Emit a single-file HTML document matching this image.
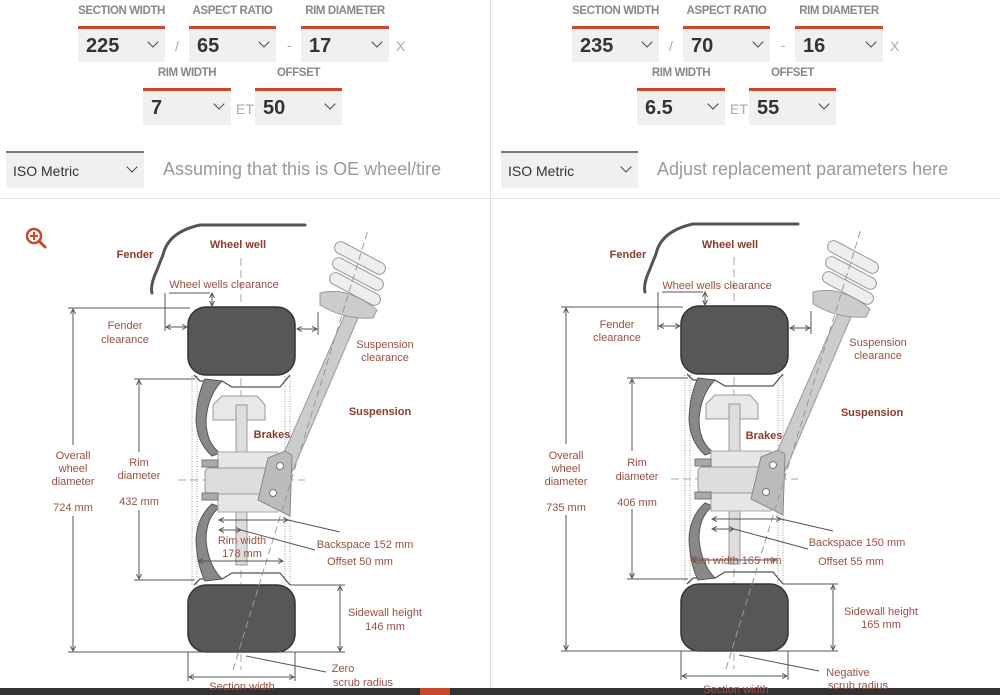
<!DOCTYPE html>
<html><head><meta charset="utf-8"><style>
html,body{margin:0;padding:0;background:#fff;}
body{width:1000px;height:695px;overflow:hidden;position:relative;font-family:"Liberation Sans",sans-serif;}
.lbl{position:absolute;font-size:11.5px;font-weight:bold;color:#888;letter-spacing:-0.4px;text-align:center;}
.bar{position:absolute;height:3px;background:#c7482a;}
.box{position:absolute;background:#f0f0f0;font-weight:bold;font-size:20px;color:#333;}
.box span{position:absolute;left:8px;top:6px;}
.chev{position:absolute;width:7px;height:7px;border-right:1.6px solid #444;border-bottom:1.6px solid #444;transform:rotate(45deg);}
.sep{position:absolute;color:#aaa;font-size:14px;}
.iso{position:absolute;background:#f0f0f0;border-top:2px solid #777;font-size:14px;color:#333;}
.hint{position:absolute;font-size:18px;color:#9a9a9a;}
</style></head><body>

<!-- LEFT HEADER -->
<div class="lbl" style="left:78px;top:5px;width:87px">SECTION WIDTH</div>
<div class="bar" style="left:78px;top:26px;width:87px"></div>
<div class="box" style="left:78px;top:29px;width:87px;height:33px"><span>225</span><div class="chev" style="left:71px;top:9px"></div></div>
<div class="sep" style="left:175px;top:38px">/</div>
<div class="lbl" style="left:189px;top:5px;width:87px">ASPECT RATIO</div>
<div class="bar" style="left:189px;top:26px;width:87px"></div>
<div class="box" style="left:189px;top:29px;width:87px;height:33px"><span>65</span><div class="chev" style="left:71px;top:9px"></div></div>
<div class="sep" style="left:287px;top:37px">-</div>
<div class="lbl" style="left:301px;top:5px;width:88px">RIM DIAMETER</div>
<div class="bar" style="left:301px;top:26px;width:88px"></div>
<div class="box" style="left:301px;top:29px;width:88px;height:33px"><span>17</span><div class="chev" style="left:72px;top:9px"></div></div>
<div class="sep" style="left:396px;top:38px">X</div>
<div class="lbl" style="left:143px;top:67px;width:88px">RIM WIDTH</div>
<div class="bar" style="left:143px;top:88px;width:88px"></div>
<div class="box" style="left:143px;top:91px;width:88px;height:34px"><span>7</span><div class="chev" style="left:72px;top:9px"></div></div>
<div class="sep" style="left:236px;top:101px">ET</div>
<div class="lbl" style="left:255px;top:67px;width:87px">OFFSET</div>
<div class="bar" style="left:255px;top:88px;width:87px"></div>
<div class="box" style="left:255px;top:91px;width:87px;height:34px"><span>50</span><div class="chev" style="left:71px;top:9px"></div></div>
<div class="iso" style="left:6px;top:151px;width:138px;height:35px"><span style="position:absolute;left:7px;top:10px">ISO Metric</span><div class="chev" style="left:122px;top:10px"></div></div>
<div class="hint" style="left:163px;top:159px">Assuming that this is OE wheel/tire</div>

<!-- RIGHT HEADER -->
<div class="lbl" style="left:572px;top:5px;width:87px">SECTION WIDTH</div>
<div class="bar" style="left:572px;top:26px;width:87px"></div>
<div class="box" style="left:572px;top:29px;width:87px;height:33px"><span>235</span><div class="chev" style="left:71px;top:9px"></div></div>
<div class="sep" style="left:669px;top:38px">/</div>
<div class="lbl" style="left:683px;top:5px;width:87px">ASPECT RATIO</div>
<div class="bar" style="left:683px;top:26px;width:87px"></div>
<div class="box" style="left:683px;top:29px;width:87px;height:33px"><span>70</span><div class="chev" style="left:71px;top:9px"></div></div>
<div class="sep" style="left:781px;top:37px">-</div>
<div class="lbl" style="left:795px;top:5px;width:88px">RIM DIAMETER</div>
<div class="bar" style="left:795px;top:26px;width:88px"></div>
<div class="box" style="left:795px;top:29px;width:88px;height:33px"><span>16</span><div class="chev" style="left:72px;top:9px"></div></div>
<div class="sep" style="left:890px;top:38px">X</div>
<div class="lbl" style="left:637px;top:67px;width:88px">RIM WIDTH</div>
<div class="bar" style="left:637px;top:88px;width:88px"></div>
<div class="box" style="left:637px;top:91px;width:88px;height:34px"><span>6.5</span><div class="chev" style="left:72px;top:9px"></div></div>
<div class="sep" style="left:730px;top:101px">ET</div>
<div class="lbl" style="left:749px;top:67px;width:87px">OFFSET</div>
<div class="bar" style="left:749px;top:88px;width:87px"></div>
<div class="box" style="left:749px;top:91px;width:87px;height:34px"><span>55</span><div class="chev" style="left:71px;top:9px"></div></div>
<div class="iso" style="left:501px;top:151px;width:137px;height:35px"><span style="position:absolute;left:7px;top:10px">ISO Metric</span><div class="chev" style="left:121px;top:10px"></div></div>
<div class="hint" style="left:657px;top:159px">Adjust replacement parameters here</div>

<svg width="1000" height="695" style="position:absolute;left:0;top:0" font-family="Liberation Sans, sans-serif">
<defs>
<marker id="a" markerWidth="6" markerHeight="6" refX="5" refY="3" orient="auto-start-reverse"><path d="M0,0.5 L5,3 L0,5.5" fill="none" stroke="#555" stroke-width="1"/></marker>
<g id="d">
 <!-- fender -->
 <path d="M152,293 Q150,285 157,270 Q160,262 163,255 Q168,232 200,225 L305,225" fill="none" stroke="#555" stroke-width="3" stroke-linecap="round"/>
 <!-- centre axes -->
 <line x1="241" y1="258" x2="241" y2="670" stroke="#aaa" stroke-dasharray="8,4"/>
 <line x1="178" y1="480" x2="305" y2="480" stroke="#aaa" stroke-dasharray="8,4"/>
 <!-- tires -->
 <rect x="188" y="307" width="107" height="68" rx="18" fill="#575757" stroke="#333" stroke-width="1.5"/>
 <rect x="188" y="585" width="107" height="67" rx="18" fill="#575757" stroke="#333" stroke-width="1.5"/>
 <!-- rim dotted -->
 <g stroke="#999" stroke-dasharray="1,1.5"><line x1="192" y1="376" x2="192" y2="585"/><line x1="197" y1="376" x2="197" y2="585"/><line x1="285" y1="376" x2="285" y2="585"/><line x1="290" y1="376" x2="290" y2="585"/></g>
 <!-- rim barrel -->
 <path d="M194,375 L200,381 L222,381 L232,387 L280,387 L290,375" fill="none" stroke="#555" stroke-width="1.3"/>
 <path d="M194,585 L200,579 L222,579 L232,573 L280,573 L290,585" fill="none" stroke="#555" stroke-width="1.3"/>
 <!-- disc -->
 <path d="M205,379 L222,381 Q208,395 206,420 Q206,443 220,453 L212,456 Q197,443 196,420 Q197,395 205,379 Z" fill="#888" stroke="#555"/>
 <path d="M205,581 L222,579 Q208,565 206,540 Q206,517 220,507 L212,504 Q197,517 196,540 Q197,565 205,581 Z" fill="#888" stroke="#555"/>
 <!-- caliper & shaft -->
 <rect x="236" y="405" width="11" height="160" fill="#ddd" stroke="#999"/>
 <path d="M213,405 L222,396 L257,396 L265,405 L265,420 L213,420 Z" fill="#e8e8e8" stroke="#999"/>
 <rect x="236" y="405" width="11" height="50" fill="#ddd" stroke="#999"/>
 <!-- hub -->
 <rect x="218" y="452" width="60" height="60" fill="#e6e6e6" stroke="#aaa"/>
 <rect x="205" y="468" width="70" height="26" rx="4" fill="#ddd" stroke="#999"/>
 <rect x="202" y="460" width="16" height="7" fill="#aaa" stroke="#777"/>
 <rect x="202" y="493" width="16" height="7" fill="#aaa" stroke="#777"/>
 <!-- strut -->
 <path d="M283,455 L346,312 L358,318 L292,472 Z" fill="#ccc" stroke="#999"/>
 <path d="M258,500 L268,458 L285,451 L292,455 L290,516 Z" fill="#bbb" stroke="#888"/>
 <circle cx="280" cy="466" r="3.5" fill="#fff" stroke="#777"/>
 <circle cx="273" cy="493" r="3.5" fill="#fff" stroke="#777"/>
 <path d="M320,293 Q348,286 377,310 L373,318 Q345,320 320,305 Z" fill="#ccc" stroke="#999"/>
 <g fill="#eee" stroke="#999">
  <rect x="332" y="252" width="56" height="12" rx="6" transform="rotate(28 360 258)"/>
  <rect x="330" y="268" width="56" height="12" rx="6" transform="rotate(28 358 274)"/>
  <rect x="327" y="283" width="56" height="12" rx="6" transform="rotate(28 355 289)"/>
 </g>
 <line x1="233" y1="670" x2="368" y2="230" stroke="#999" stroke-dasharray="7,4"/>
 <!-- dims -->
 <g stroke="#555" stroke-width="1" fill="none">
  <line x1="169" y1="293" x2="210" y2="293"/>
  <line x1="212" y1="293" x2="212" y2="306" marker-start="url(#a)" marker-end="url(#a)"/>
  <line x1="68" y1="308" x2="190" y2="308"/>
  <line x1="68" y1="652" x2="345" y2="652"/>
  <line x1="73" y1="309" x2="73" y2="445" marker-start="url(#a)"/><line x1="73" y1="516" x2="73" y2="651" marker-end="url(#a)"/>
  <line x1="165" y1="293" x2="165" y2="331"/>
  <line x1="166" y1="327" x2="187" y2="327" marker-start="url(#a)" marker-end="url(#a)"/>
  <line x1="318" y1="312" x2="318" y2="335"/>
  <line x1="297" y1="329" x2="317" y2="329" marker-start="url(#a)" marker-end="url(#a)"/>
  <line x1="134" y1="379" x2="195" y2="379"/><line x1="134" y1="580" x2="195" y2="580"/>
  <line x1="139" y1="380" x2="139" y2="452" marker-start="url(#a)"/><line x1="139" y1="510" x2="139" y2="579" marker-end="url(#a)"/>
  <line x1="219" y1="520" x2="288" y2="520" marker-start="url(#a)" marker-end="url(#a)"/>
  <line x1="219" y1="530" x2="241" y2="530" marker-start="url(#a)" marker-end="url(#a)"/>
  <line x1="288" y1="520" x2="340" y2="532"/><line x1="241" y1="530" x2="315" y2="550"/>
  <line x1="198" y1="561" x2="283" y2="561" marker-start="url(#a)" marker-end="url(#a)"/>
  <line x1="290" y1="585" x2="345" y2="585"/>
  <line x1="340" y1="586" x2="340" y2="651" marker-start="url(#a)" marker-end="url(#a)"/>
  <line x1="188" y1="652" x2="188" y2="681"/><line x1="295" y1="652" x2="295" y2="681"/>
  <line x1="189" y1="677" x2="294" y2="677" marker-start="url(#a)" marker-end="url(#a)"/>
  <line x1="246" y1="656" x2="326" y2="672"/>
 </g>
</g>
</defs>
<use href="#d"/>
<use href="#d" transform="translate(493,-1)"/>
<!-- dividers -->
<line x1="490.5" y1="0" x2="490.5" y2="688" stroke="#ddd"/>
<line x1="0" y1="198.5" x2="1000" y2="198.5" stroke="#e4e4e4"/>
<rect x="0" y="688" width="1000" height="7" fill="#333"/>
<rect x="420" y="688" width="30" height="7" fill="#c7482a"/>
<!-- zoom icon -->
<circle cx="34" cy="236" r="7" fill="none" stroke="#c7482a" stroke-width="2.5"/>
<line x1="39" y1="241" x2="45" y2="247" stroke="#c7482a" stroke-width="3" stroke-linecap="round"/>
<path d="M30,236 H38 M34,232 V240" stroke="#c7482a" stroke-width="2"/>

<g font-size="11" fill="#9a5040" text-anchor="middle">
 <g font-weight="bold" fill="#8b3b2b"><text x="135" y="258">Fender</text><text x="238" y="248">Wheel well</text><text x="272" y="438">Brakes</text><text x="380" y="415">Suspension</text>
 <text x="628" y="258">Fender</text><text x="730" y="248">Wheel well</text><text x="764" y="439">Brakes</text><text x="872" y="416">Suspension</text></g>
 <text x="224" y="288">Wheel wells clearance</text>
 <text x="125" y="329">Fender</text><text x="125" y="343">clearance</text>
 <text x="385" y="348">Suspension</text><text x="385" y="361">clearance</text>
 <text x="73" y="459">Overall</text><text x="73" y="472">wheel</text><text x="73" y="485">diameter</text><text x="73" y="511">724 mm</text>
 <text x="139" y="466">Rim</text><text x="139" y="479">diameter</text><text x="139" y="505">432 mm</text>
 <text x="242" y="544">Rim width</text><text x="242" y="557">178 mm</text>
 <text x="365" y="548">Backspace 152 mm</text><text x="360" y="565">Offset 50 mm</text>
 <text x="385" y="616">Sidewall height</text><text x="385" y="630">146 mm</text>
 <text x="343" y="672">Zero</text><text x="363" y="686">scrub radius</text>
 <text x="242" y="690">Section width</text>

 <text x="717" y="289">Wheel wells clearance</text>
 <text x="617" y="328">Fender</text><text x="617" y="341">clearance</text>
 <text x="878" y="346">Suspension</text><text x="878" y="359">clearance</text>
 <text x="566" y="459">Overall</text><text x="566" y="472">wheel</text><text x="566" y="485">diameter</text><text x="566" y="511">735 mm</text>
 <text x="637" y="466">Rim</text><text x="637" y="480">diameter</text><text x="637" y="506">406 mm</text>
 <text x="736" y="564">Rim width 165 mm</text>
 <text x="857" y="546">Backspace 150 mm</text><text x="851" y="565">Offset 55 mm</text>
 <text x="881" y="615">Sidewall height</text><text x="881" y="628">165 mm</text>
 <text x="848" y="676">Negative</text><text x="858" y="689">scrub radius</text>
 <text x="736" y="693">Section width</text>
</g>
</svg>
</body></html>
